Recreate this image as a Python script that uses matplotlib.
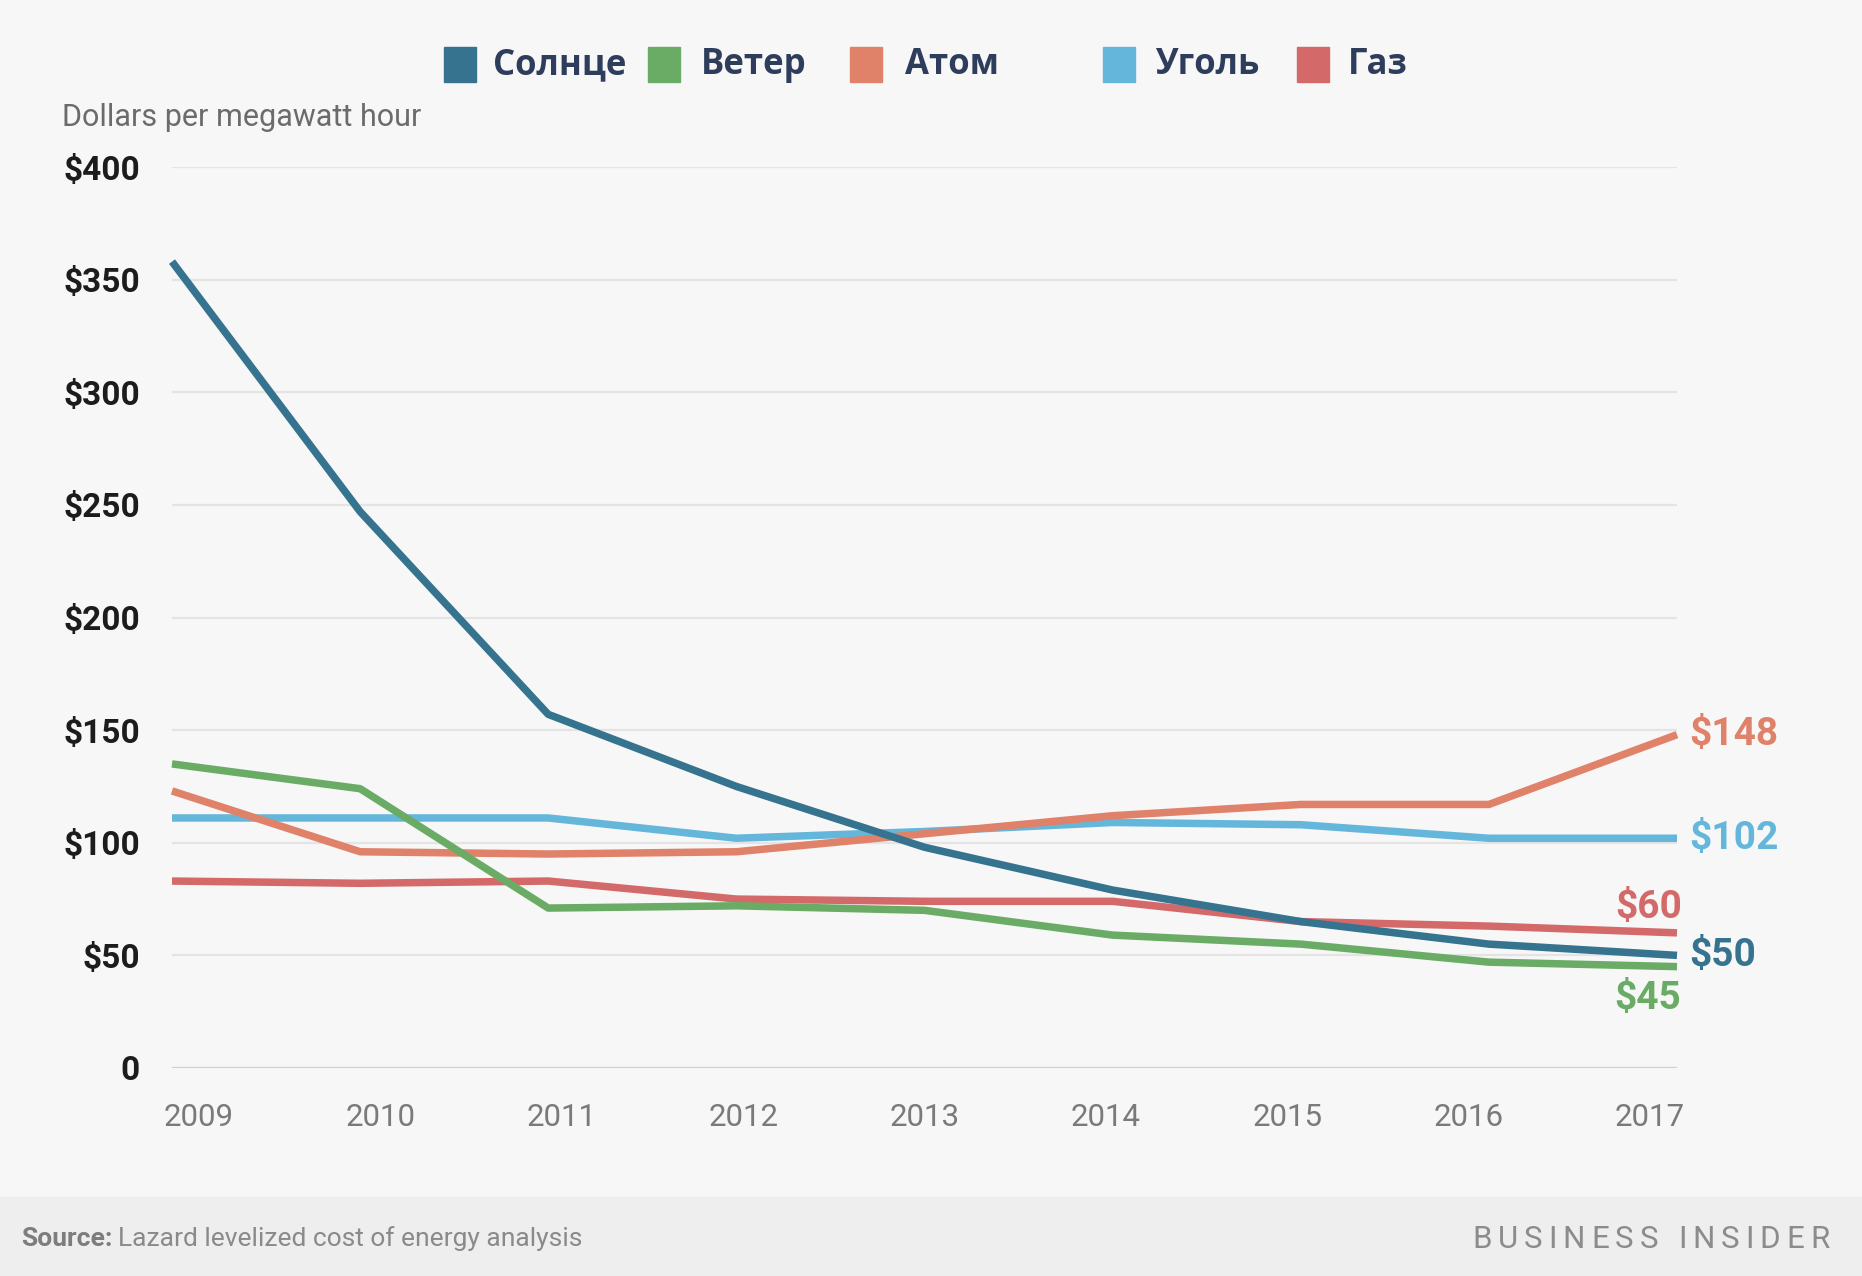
import matplotlib
matplotlib.use('Agg')
import matplotlib.pyplot as plt
from matplotlib.patches import Rectangle
from matplotlib.transforms import ScaledTranslation

years = [2009, 2010, 2011, 2012, 2013, 2014, 2015, 2016, 2017]
solar = [358, 247, 157, 125, 98, 79, 65, 55, 50]
wind = [135, 124, 71, 72, 70, 59, 55, 47, 45]
nuclear = [123, 96, 95, 96, 104, 112, 117, 117, 148]
coal = [111, 111, 111, 102, 105, 109, 108, 102, 102]
gas = [83, 82, 83, 75, 74, 74, 65, 63, 60]

names = ["Солнце", "Ветер", "Атом", "Уголь", "Газ"]
colors = ["#35738f", "#6aac65", "#e0826a", "#65b6db", "#d4696a"]
ytick_vals = [0, 50, 100, 150, 200, 250, 300, 350, 400]

W, H = 1862, 1276
bg = "#f7f7f7"

fig = plt.figure(figsize=(W / 100, H / 100), dpi=100, facecolor=bg)
ax = fig.add_axes([172 / W, 1 - 1068 / H, 1505 / W, 901 / H])
ax.set_facecolor(bg)

all_series = [solar, wind, nuclear, coal, gas]
# draw order so that solar sits on top like in the original
for vals, c in zip(all_series[::-1], colors[::-1]):
    ax.plot(years, vals, color=c, lw=5.4, clip_on=False,
            solid_joinstyle='round', solid_capstyle='butt', zorder=3)

ax.set_xlim(2009, 2017)
ax.set_ylim(0, 400)
ax.set_yticks(ytick_vals)
ax.set_yticklabels(["0" if v == 0 else "$%d" % v for v in ytick_vals],
                   fontfamily="Roboto", fontweight="bold", fontsize=24, color="#1c1c1c")
ax.set_xticks(years)
ax.set_xticklabels([str(y) for y in years], fontfamily="Roboto", fontsize=22.5, color="#7a7a7a")
ax.tick_params(axis='y', length=0, pad=23)
ax.tick_params(axis='x', length=0, pad=25)
for lab, y in zip(ax.get_xticklabels(), years):
    dx = (2013 - y) / 4 * 27 / 100
    lab.set_transform(lab.get_transform() + ScaledTranslation(dx, 0, fig.dpi_scale_trans))

ax.grid(axis='y', color='#e4e4e4', lw=1.6)
ax.set_axisbelow(True)
ax.axhline(0, color='#cfcfcf', lw=2.2, zorder=1)
for s in ax.spines.values():
    s.set_visible(False)

# end labels
lab_style = dict(fontfamily="Roboto", fontweight="bold", fontsize=28,
                 textcoords="offset points", annotation_clip=False)
ax.annotate("$%d" % nuclear[-1], (years[-1], nuclear[-1]), xytext=(9, 0),
            ha='left', va='center', color=colors[2], **lab_style)
ax.annotate("$%d" % coal[-1], (years[-1], coal[-1]), xytext=(9, 0),
            ha='left', va='center', color=colors[3], **lab_style)
ax.annotate("$%d" % solar[-1], (years[-1], solar[-1]), xytext=(9, 0),
            ha='left', va='center', color=colors[0], **lab_style)
ax.annotate("$%d" % gas[-1], (years[-1], gas[-1]), xytext=(4, 18),
            ha='right', va='center', color=colors[4], **lab_style)
ax.annotate("$%d" % wind[-1], (years[-1], wind[-1]), xytext=(3, -23),
            ha='right', va='center', color=colors[1], **lab_style)

fig.text(62 / W, 1 - 117 / H, "Dollars per megawatt hour", fontfamily="Roboto",
         fontsize=22, color="#6b6b6b", ha='left', va='center')

# legend
sq_x = [444, 648, 850, 1103, 1297]
txt_x = [493, 701, 905, 1155, 1348]
for name, c, sx, tx in zip(names, colors, sq_x, txt_x):
    fig.patches.append(Rectangle((sx / W, 1 - 82 / H), 32 / W, 35 / H,
                                 transform=fig.transFigure, color=c, zorder=5))
    fig.text(tx / W, 1 - 65 / H, name, fontfamily="Open Sans", fontweight="bold",
             fontsize=25, color="#2f3d5c", ha='left', va='center')

# footer
fig.patches.append(Rectangle((0, 0), 1, 79 / H, transform=fig.transFigure,
                             color="#eeeeee", zorder=0))
t1 = fig.text(21 / W, 1 - 1239 / H, "Source:", fontfamily="Roboto", fontweight="bold",
              fontsize=19, color="#7d7d7d", ha='left', va='center')
r = fig.canvas.get_renderer()
bb = t1.get_window_extent(r)
fig.text((bb.x1 + 6) / W, 1 - 1239 / H, "Lazard levelized cost of energy analysis",
         fontfamily="Roboto", fontsize=19, color="#8a8a8a", ha='left', va='center')

# BUSINESS INSIDER with letter spacing
x = 1472
for ch in "BUSINESS INSIDER":
    t = fig.text(x / W, 1 - 1239 / H, ch, fontfamily="Roboto", fontsize=22.5,
                 color="#8c8c8c", ha='left', va='center')
    w = t.get_window_extent(r).width if ch != " " else 8
    x += w + 6

fig.savefig("out.png", dpi=100, facecolor=bg)
